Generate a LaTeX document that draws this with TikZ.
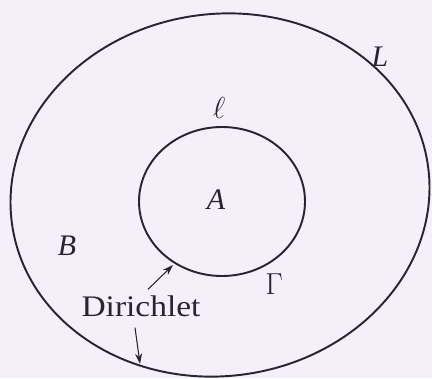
\documentclass[tikz,border=0pt]{standalone}
\usepackage{fontspec}
\setmainfont{Liberation Serif}
\newfontfamily\widerm[FakeStretch=1.12]{Liberation Serif}
\definecolor{paper}{RGB}{244,239,248}
\definecolor{ink}{RGB}{40,36,48}
\tikzset{
  rim/.style={draw=ink, line width=1.1pt},
  lbl/.style={text=ink, font=\fontsize{17}{20}\selectfont, inner sep=1pt},
  ptr/.style={draw=ink, line width=0.6pt, -{Stealth[length=6pt,width=4pt]}}
}
\usetikzlibrary{arrows.meta}
\begin{document}
\begin{tikzpicture}[x=0.02cm, y=-0.02cm]
  \fill[paper] (0,0) rectangle (432,378);
  \useasboundingbox (0,0) rectangle (432,378);
  % outer boundary L (tilted a little), inner boundary Gamma
  \draw[rim, rotate around={8:(220,195)}] (220,195) ellipse [x radius=210, y radius=181];
  \draw[rim] (222,201.5) ellipse [x radius=83, y radius=74.5];
  \node[lbl] (lbig) at (380,57) {\textit{L}};
  \node[lbl] (lsmall) at (219,108) {$\ell$};
  \node[lbl] (A) at (216,200) {\textit{A}};
  \node[lbl] (B) at (67,246) {\textit{B}};
  \node[lbl] (Gam) at (274,284) {$\Gamma$};
  \node[lbl, font=\fontsize{17}{20}\widerm] (dir) at (141,306) {Dirichlet};
  \coordinate (onG) at (173,265);
  \coordinate (onL) at (140,364);
  \draw[ptr] (dir.north) ++(7,-4) coordinate (d1) (d1) -- (onG);
  \draw[ptr] (dir.south) ++(-6,9) coordinate (d2) (d2) -- (onL);
\end{tikzpicture}
\end{document}
